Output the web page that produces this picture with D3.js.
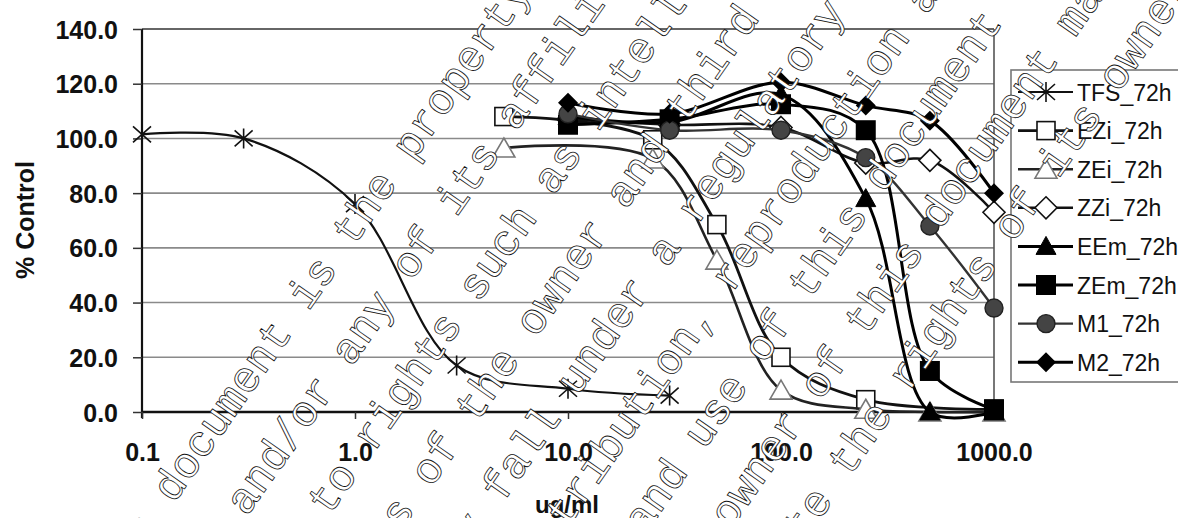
<!DOCTYPE html>
<html><head><meta charset="utf-8">
<script src="https://cdn.jsdelivr.net/npm/d3@7"></script>
<style>body{margin:0;background:#fff}svg{display:block}</style>
</head><body>
<svg id="c" width="1178" height="518"></svg>
<script>
// ---------- data ----------
const xTicks = [0.1, 1, 10, 100, 1000];
const xTickLabels = ["0.1", "1.0", "10.0", "100.0", "1000.0"];
const yTicks = [0, 20, 40, 60, 80, 100, 120, 140];
const yTickLabels = ["0.0", "20.0", "40.0", "60.0", "80.0", "100.0", "120.0", "140.0"];
const seriesNames = ["TFS_72h", "EZi_72h", "ZEi_72h", "ZZi_72h", "EEm_72h", "ZEm_72h", "M1_72h", "M2_72h"];
const concTFS = [0.1, 0.3, 1, 3, 10, 30];
const concEZi = [5, 25, 50, 100, 250, 1000];
const concZEi = [5, 25, 50, 100, 250, 500, 1000];
const concM = [10, 30, 100, 250, 500, 1000];
const valTFS = [101.5, 100, 76, 17, 8.5, 6];
const valEZi = [108, 99.5, 68.5, 20, 4.5, 1];
const valZEi = [96.5, 92.5, 55.5, 8, 1, 0, 0];
const valZZi = [107, 105, 104, 91, 92, 73];
const valEEm = [108, 106, 116, 78, 0, 0];
const valZEm = [105, 107, 112.5, 103, 15, 1];
const valM1 = [109, 103, 103, 93, 68, 38];
const valM2 = [113, 109, 120.5, 112, 106.5, 80];
const xTitle = "ug/ml";
const yTitle = "% Control";
const watermarkLines = [
  "This document is the property of Bayer AG",
  "Bayer AG and/or any of its affiliates. It may be",
  "subject to rights such as intellectual property",
  "copy rights of the owner and third parties.",
  "may fall under a regulatory data protection",
  "publication, distribution, reproduction and/or",
  "exploitation and use of this document or its",
  "permission of the owner of this document may",
  "violate the rights of its owner."
];
const watermarkStart = [-444, -517, -444, -466, -229, -526, -409, -485, -114];

// ---------- layout ----------
const svg = d3.select("#c");
const x = d3.scaleLog().domain([0.1, 1000]).range([142, 994]);
const y = d3.scaleLinear().domain([0, 140]).range([412, 29]);

// gridlines
svg.append("g").selectAll("line").data(yTicks.filter(d => d > 0)).join("line")
  .attr("x1", 142).attr("x2", 994).attr("y1", d => y(d)).attr("y2", d => y(d))
  .attr("stroke", d => d === 140 ? "#333" : "#8a8a8a").attr("stroke-width", 1.6);
// right border
svg.append("line").attr("x1", 994).attr("x2", 994).attr("y1", 29).attr("y2", 412)
  .attr("stroke", "#555").attr("stroke-width", 1.6);

// y axis
const yAxis = d3.axisLeft(y).tickValues(yTicks).tickFormat((d, i) => yTickLabels[i]).tickSize(9).tickPadding(15);
const gy = svg.append("g").attr("transform", "translate(142,0)").call(yAxis);
gy.select(".domain").attr("stroke", "#111").attr("stroke-width", 2.2).attr("d", "M0,29V418");
gy.selectAll(".tick line").attr("stroke", "#333").attr("stroke-width", 1.5);
gy.selectAll("text").attr("font-family", "Liberation Sans, Arial, sans-serif").attr("font-weight", "bold")
  .attr("font-size", 25).attr("fill", "#111").attr("dy", "0.36em");

// x axis
const xAxis = d3.axisBottom(x).tickValues(xTicks).tickFormat((d, i) => xTickLabels[i]).tickSize(7).tickPadding(28);
const gx = svg.append("g").attr("transform", "translate(0,412)").call(xAxis);
gx.select(".domain").attr("stroke", "#111").attr("stroke-width", 2.4).attr("d", "M142,0H994");
gx.selectAll(".tick line").attr("stroke", "#333").attr("stroke-width", 1.5);
gx.selectAll("text").attr("font-family", "Liberation Sans, Arial, sans-serif").attr("font-weight", "bold")
  .attr("font-size", 25).attr("fill", "#111").attr("dy", "0.55em");

// titles
svg.append("text").text(yTitle).attr("transform", "translate(34,220) rotate(-90)")
  .attr("text-anchor", "middle").attr("font-family", "Liberation Sans, Arial, sans-serif")
  .attr("font-weight", "bold").attr("font-size", 25).attr("fill", "#111");
svg.append("text").text(xTitle).attr("x", 567).attr("y", 513)
  .attr("text-anchor", "middle").attr("font-family", "Liberation Sans, Arial, sans-serif")
  .attr("font-weight", "bold").attr("font-size", 24).attr("fill", "#111");

// ---------- markers ----------
function marker(g, type) {
  switch (type) {
    case "star":
      g.append("path").attr("d", "M-9,-8L9,8M-9,8L9,-8M0,-10L0,10").attr("stroke", "#111").attr("stroke-width", 1.6).attr("fill", "none");
      break;
    case "sqOpen":
      g.append("rect").attr("x", -9).attr("y", -9).attr("width", 18).attr("height", 18).attr("fill", "#fff").attr("stroke", "#111").attr("stroke-width", 1.6);
      break;
    case "triOpen":
      g.append("path").attr("d", "M0,-10L11,9L-11,9Z").attr("fill", "#fff").attr("stroke", "#777").attr("stroke-width", 1.6);
      break;
    case "diaOpen":
      g.append("path").attr("d", "M0,-11L11,0L0,11L-11,0Z").attr("fill", "#fff").attr("stroke", "#111").attr("stroke-width", 1.6);
      break;
    case "triFill":
      g.append("path").attr("d", "M0,-10L10,8L-10,8Z").attr("fill", "#000").attr("stroke", "#000").attr("stroke-width", 1);
      break;
    case "sqFill":
      g.append("rect").attr("x", -10).attr("y", -10).attr("width", 20).attr("height", 20).attr("fill", "#000");
      break;
    case "circ":
      g.append("circle").attr("r", 9).attr("fill", "#444").attr("stroke", "#222").attr("stroke-width", 1.4);
      break;
    case "diaFill":
      g.append("path").attr("d", "M0,-10L10,0L0,10L-10,0Z").attr("fill", "#000");
      break;
  }
}

const series = [
  {name: seriesNames[0], xs: concTFS, ys: valTFS, m: "star", color: "#111", w: 2.2},
  {name: seriesNames[1], xs: concEZi, ys: valEZi, m: "sqOpen", color: "#111", w: 2.8},
  {name: seriesNames[2], xs: concZEi, ys: valZEi, m: "triOpen", color: "#222", w: 2.6},
  {name: seriesNames[3], xs: concM, ys: valZZi, m: "diaOpen", color: "#111", w: 2.6},
  {name: seriesNames[4], xs: concM, ys: valEEm, m: "triFill", color: "#000", w: 3},
  {name: seriesNames[5], xs: concM, ys: valZEm, m: "sqFill", color: "#000", w: 3},
  {name: seriesNames[6], xs: concM, ys: valM1, m: "circ", color: "#333", w: 2.4},
  {name: seriesNames[7], xs: concM, ys: valM2, m: "diaFill", color: "#000", w: 3}
];

const line = d3.line().x(d => x(d[0])).y(d => y(d[1])).curve(d3.curveCatmullRom.alpha(0.5));
series.forEach(s => {
  const pts = s.xs.map((v, i) => [v, s.ys[i]]);
  svg.append("path").datum(pts).attr("d", line).attr("fill", "none")
    .attr("stroke", s.color).attr("stroke-width", s.w);
  pts.forEach(p => marker(svg.append("g").attr("transform", `translate(${x(p[0])},${y(p[1])})`), s.m));
});

// ---------- legend ----------
const lg = svg.append("g");
lg.append("rect").attr("x", 1011).attr("y", 70).attr("width", 180).attr("height", 312)
  .attr("fill", "#fff").attr("stroke", "#777").attr("stroke-width", 1.6);
series.forEach((s, i) => {
  const cy = 92 + i * 38.6;
  lg.append("line").attr("x1", 1018).attr("x2", 1073).attr("y1", cy).attr("y2", cy)
    .attr("stroke", s.color).attr("stroke-width", s.w);
  marker(lg.append("g").attr("transform", `translate(1046,${cy})`), s.m);
  lg.append("text").text(s.name).attr("x", 1077).attr("y", cy + 8.5)
    .attr("font-family", "Liberation Sans, Arial, sans-serif").attr("font-size", 23).attr("fill", "#111");
});

// ---------- watermark ----------
const wm = svg.append("g").attr("transform", "rotate(-55)");
watermarkLines.forEach((t, k) => {
  wm.append("text").text(t).attr("x", watermarkStart[k]).attr("y", 420.5 + 67.3 * k + 11)
    .attr("font-family", "Liberation Mono, Courier New, monospace").attr("font-size", 43.5)
    .attr("fill", "#fff").attr("stroke", "#111").attr("stroke-width", 0.8)
    .attr("xml:space", "preserve").style("white-space", "pre");
});
</script>
</body></html>
